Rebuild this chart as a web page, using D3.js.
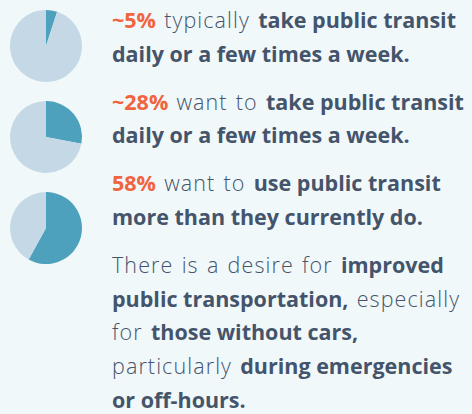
<!DOCTYPE html>
<html>
<head>
<meta charset="utf-8">
<script src="https://cdn.jsdelivr.net/npm/d3@7"></script>
<style>
  html, body { margin: 0; padding: 0; background: #f1f8fa; }
  svg { display: block; }
  text { font-family: "Open Sans", "Noto Sans", sans-serif; }
</style>
</head>
<body>
<div id="chart"></div>
<script>
// share of respondents for each pie (percent)
const shares = [5, 28, 58];

// text lines, each a list of [style, text]; h = highlight, n = normal, b = bold
const paragraphs = [
  [
    [["h", "~5%"], ["n", " typically "], ["b", "take public transit"]],
    [["b", "daily or a few times a week."]]
  ],
  [
    [["h", "~28%"], ["n", " want to "], ["b", "take public transit"]],
    [["b", "daily or a few times a week."]]
  ],
  [
    [["h", "58%"], ["n", " want to "], ["b", "use public transit"]],
    [["b", "more than they currently do."]]
  ],
  [
    [["n", "There is a desire for "], ["b", "improved"]],
    [["b", "public transportation,"], ["n", " especially"]],
    [["n", "for "], ["b", "those without cars,"]],
    [["n", "particularly "], ["b", "during emergencies"]],
    [["b", "or off-hours."]]
  ]
];

const width = 472, height = 414;
const colors = { h: "#f0643f", n: "#44546b", b: "#44546b" };
const weights = { h: 700, n: 300, b: 700 };
const spacing = { h: 0, n: 1.1, b: 0 };
const wordSpacing = { h: 0, n: 1.5, b: 0 };

const svg = d3.select("#chart").append("svg")
    .attr("width", width)
    .attr("height", height);

// pies
const pieCenters = d3.scalePoint()
    .domain(shares.map((d, i) => i))
    .range([46, 228]);
const radius = 36;

const pie = d3.pie().sort(null).value(d => d);
const arc = d3.arc().innerRadius(0).outerRadius(radius);

shares.forEach((s, i) => {
    const g = svg.append("g")
        .attr("transform", `translate(46, ${pieCenters(i)})`);
    g.selectAll("path")
        .data(pie([s, 100 - s]))
        .enter().append("path")
        .attr("d", arc)
        .attr("fill", (d, j) => j === 0 ? "#4da1bd" : "#c4d9e5");
});

// text block
const textX = 112;
const lineH = 33.8;
const paraGap = 14;
const fontSize = 21.5;

let y = 28;
paragraphs.forEach(lines => {
    lines.forEach(segs => {
        const t = svg.append("text")
            .attr("x", textX)
            .attr("y", y)
            .style("font-size", fontSize + "px");
        t.selectAll("tspan")
            .data(segs)
            .enter().append("tspan")
            .attr("fill", d => colors[d[0]])
            .attr("font-weight", d => weights[d[0]])
            .style("letter-spacing", d => spacing[d[0]] + "px")
            .style("word-spacing", d => wordSpacing[d[0]] + "px")
            .style("white-space", "pre")
            .text(d => d[1]);
        y += lineH;
    });
    y += paraGap;
});
</script>
</body>
</html>
